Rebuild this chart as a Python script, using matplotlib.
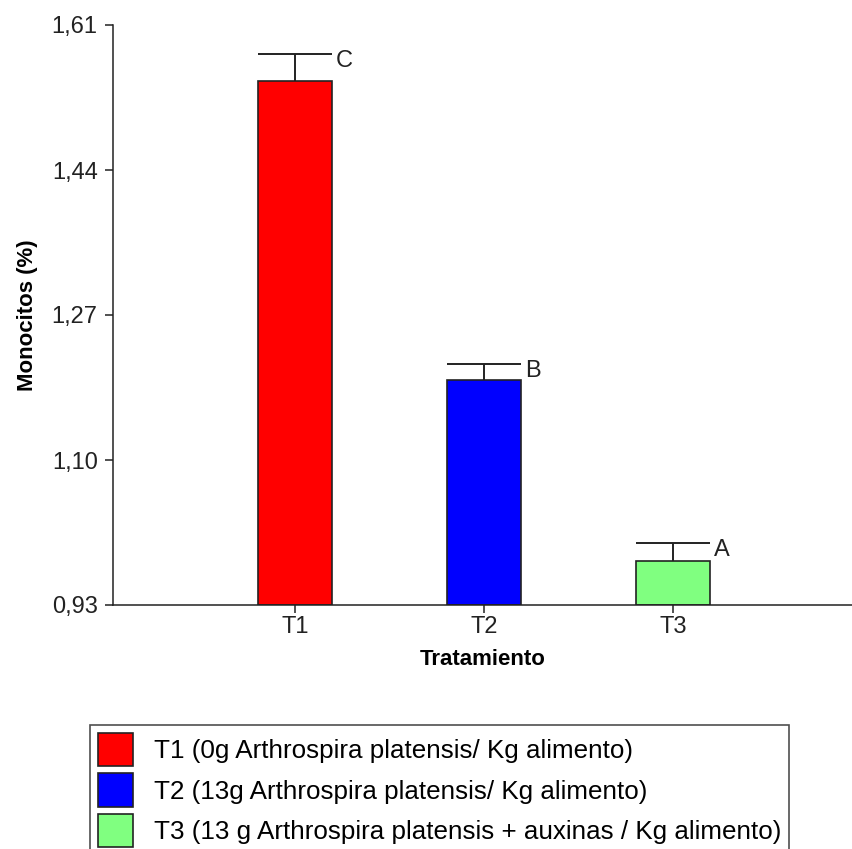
import matplotlib
matplotlib.use("Agg")
import matplotlib.pyplot as plt
from matplotlib.patches import Patch

plt.rcParams['font.family'] = ['Liberation Sans', 'DejaVu Sans']

# data
treatments = ["T1", "T2", "T3"]
means = [1.544, 1.194, 0.982]
errors = [0.032, 0.019, 0.021]
letters = ["C", "B", "A"]
colors = ["#ff0000", "#0000ff", "#80ff80"]
legend_labels = [
    "T1 (0g Arthrospira platensis/ Kg alimento)",
    "T2 (13g Arthrospira platensis/ Kg alimento)",
    "T3 (13 g Arthrospira platensis + auxinas / Kg alimento)",
]
yticks = [0.93, 1.10, 1.27, 1.44, 1.61]

fig = plt.figure(figsize=(8.53, 8.49), dpi=100)
ax = fig.add_axes([113 / 853, 1 - 605 / 849, 740 / 853, 580 / 849])

x = [1, 2, 3]
w = 0.39
ax.bar(x, [m - 0.93 for m in means], bottom=0.93, width=w, color=colors,
       edgecolor="#222222", linewidth=1.2, zorder=2)

# one-sided error bars with caps as wide as the bars
tops = [m + e for m, e in zip(means, errors)]
ax.vlines(x, means, tops, color="#222222", linewidth=1.4, zorder=3)
ax.hlines(tops, [xi - w / 2 for xi in x], [xi + w / 2 for xi in x],
          color="#222222", linewidth=1.4, zorder=3)
for xi, t, lab in zip(x, tops, letters):
    ax.annotate(lab, (xi + w / 2, t), xytext=(3, -5), textcoords="offset points",
                ha="left", va="center", fontsize=17, color="#222222")

ax.set_xlim(1 - 182 / 189, 1 + 740 / 189 - 182 / 189)
ax.set_ylim(0.93, 1.61)
ax.set_xticks(x)
ax.set_xticklabels(treatments, fontsize=17)
ax.set_yticks(yticks)
ax.set_yticklabels([f"{v:.2f}".replace(".", ",") for v in yticks], fontsize=17)

for s in ["top", "right"]:
    ax.spines[s].set_visible(False)
for s in ["left", "bottom"]:
    ax.spines[s].set_linewidth(1.1)
    ax.spines[s].set_color("#222222")
ax.tick_params(direction="out", length=6, width=1.1, color="#222222",
               labelcolor="#222222")
ax.tick_params(axis="y", pad=5)
ax.tick_params(axis="x", pad=2)

ax.set_xlabel("Tratamiento", fontsize=16, fontweight="bold", labelpad=8)
ax.set_ylabel("Monocitos (%)", fontsize=16, fontweight="bold", labelpad=10)

handles = [Patch(facecolor=c, edgecolor="#222222", linewidth=1.2) for c in colors]
fig.legend(handles, legend_labels, loc="upper left",
           bbox_to_anchor=(90 / 853, 1 - 725 / 849), fontsize=18.7,
           frameon=True, fancybox=False, edgecolor="#222222",
           handlelength=1.35, handleheight=1.6, handletextpad=0.8,
           labelspacing=0.28, borderpad=0.3, borderaxespad=0)
fig.legends[0].get_frame().set_linewidth(1.2)

fig.savefig("out.png", dpi=100)
